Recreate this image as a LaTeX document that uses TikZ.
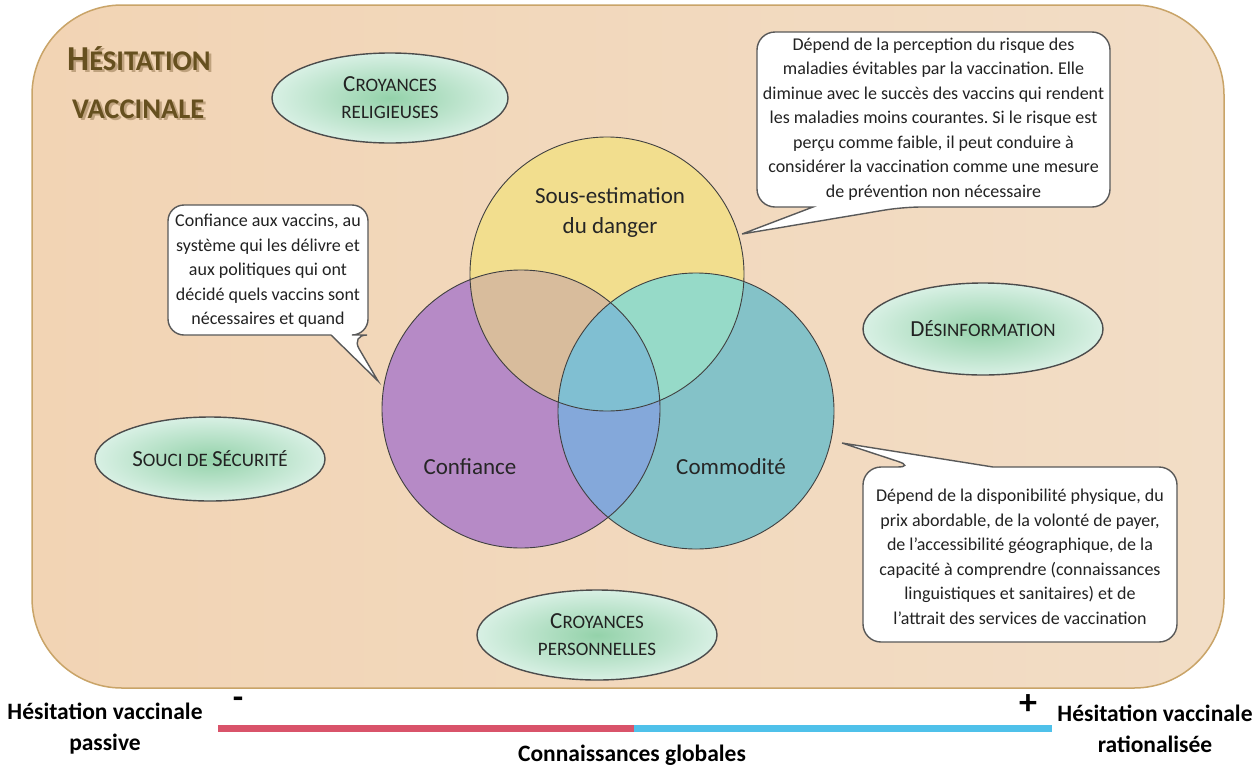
\documentclass[tikz,border=0pt]{standalone}
\usepackage{fontspec}
\setmainfont{Carlito}
\usetikzlibrary{shapes.geometric}
\definecolor{bgA}{HTML}{F2D4B4}
\definecolor{bgB}{HTML}{EBC49D}
\definecolor{bgC}{HTML}{F2DDC6}
\definecolor{frame}{HTML}{C9A468}
\definecolor{cY}{HTML}{F2DE8E}
\definecolor{cP}{HTML}{B68AC6}
\definecolor{cT}{HTML}{84C2C8}
\definecolor{cYP}{HTML}{D8BC9C}
\definecolor{cYT}{HTML}{96DAC8}
\definecolor{cPT}{HTML}{84A8DA}
\definecolor{cYPT}{HTML}{80BFD2}
\definecolor{ellIn}{HTML}{94D2AA}
\definecolor{ellOut}{HTML}{D8F0E4}
\definecolor{titlecol}{HTML}{66501F}
\definecolor{shadowcol}{HTML}{BFA27E}
\definecolor{barred}{HTML}{D9536A}
\definecolor{barblue}{HTML}{4FC1EA}
\definecolor{txt}{HTML}{222222}
\newcommand{\mysc}[2]{{\fontsize{23}{27}\selectfont #1}{\fontsize{19}{27}\selectfont #2}}
\frenchspacing
\begin{document}
\begin{tikzpicture}[x=1pt,y=-1pt,
  factor/.style={ellipse, draw=black!70, line width=1.4pt, inner color=ellIn, outer color=ellOut,
     inner sep=0pt, align=center, text=txt, font=\fontsize{19}{27}\selectfont},
  callout/.style={draw=black!65, line width=1.4pt, fill=white},
  callouttext/.style={align=center, text=txt, inner sep=0pt, font=\fontsize{18}{24.5}\selectfont},
  venn/.style={draw=black!75, line width=0.9pt},
  vennlabel/.style={align=center, text=black!85, font=\fontsize{23}{30}\selectfont},
  bottomtext/.style={align=center, text=black, font=\bfseries\fontsize{23.5}{31}\selectfont},
  titletext/.style={anchor=base west, inner sep=0pt, font=\bfseries}
]
\useasboundingbox (0,0) rectangle (1257,766);
\fill[white] (0,0) rectangle (1257,766);

% background frame
\shade[left color=bgA, middle color=bgB, right color=bgC, rounded corners=90pt]
  (32,5) rectangle (1224,688);
\draw[frame, line width=1.5pt, rounded corners=90pt] (32,5) rectangle (1224,688);

% title
\node[titletext, text=shadowcol] (t1s) at (69.5,72.5) {\fontsize{35}{40}\selectfont H\fontsize{28.5}{40}\selectfont ÉSITATION};
\node[titletext, text=shadowcol] (t2s) at (74.5,120.5) {\fontsize{28.5}{40}\selectfont VACCINALE};
\node[titletext, text=titlecol] (t1) at (67,70) {\fontsize{35}{40}\selectfont H\fontsize{28.5}{40}\selectfont ÉSITATION};
\node[titletext, text=titlecol] (t2) at (72,118) {\fontsize{28.5}{40}\selectfont VACCINALE};

% factor ellipses
\node[factor, minimum width=236pt, minimum height=90pt] (rel) at (390,98)
  {\mysc{C}{ROYANCES}\\\mysc{}{RELIGIEUSES}};
\node[factor, minimum width=240pt, minimum height=92pt] (des) at (983,329)
  {\mysc{D}{ÉSINFORMATION}};
\node[factor, minimum width=230pt, minimum height=84pt] (sec) at (210,459)
  {\mysc{S}{OUCI DE }\mysc{S}{ÉCURITÉ}};
\node[factor, minimum width=240pt, minimum height=90pt] (per) at (597,635)
  {\mysc{C}{ROYANCES}\\\mysc{}{PERSONNELLES}};

% Venn diagram
\coordinate (cy) at (607,274);
\coordinate (cp) at (521,409);
\coordinate (ct) at (696,411);
\def\rY{137pt}\def\rP{139pt}\def\rT{138pt}
\fill[cY] (cy) circle[radius=\rY];
\fill[cP] (cp) circle[radius=\rP];
\fill[cT] (ct) circle[radius=\rT];
\begin{scope}
  \clip (cp) circle[radius=\rP];
  \fill[cPT] (ct) circle[radius=\rT];
\end{scope}
\begin{scope}
  \clip (cy) circle[radius=\rY];
  \fill[cYP] (cp) circle[radius=\rP];
  \fill[cYT] (ct) circle[radius=\rT];
  \clip (cp) circle[radius=\rP];
  \fill[cYPT] (ct) circle[radius=\rT];
\end{scope}
\draw[venn] (cy) circle[radius=\rY];
\draw[venn] (cp) circle[radius=\rP];
\draw[venn] (ct) circle[radius=\rT];
\node[vennlabel] (ly) at (610,213) {Sous-estimation\\du danger};
\node[vennlabel] (lp) at (470,467) {Confiance};
\node[vennlabel] (lt) at (731,467) {Commodité};

% callouts
\draw[callout, rounded corners=18pt] (757,120) -- (757,32) -- (1110,32) -- (1110,207) -- (903,207)
  [sharp corners] -- (742,234) -- (813,207) [rounded corners=18pt] -- (757,207) -- cycle;
\node[callouttext] (c1) at (933.5,119) {Dépend de la perception du risque des\\
maladies évitables par la vaccination. Elle\\
diminue avec le succès des vaccins qui rendent\\
les maladies moins courantes. Si le risque est\\
perçu comme faible, il peut conduire à\\
considérer la vaccination comme une mesure\\
de prévention non nécessaire};

\draw[callout, rounded corners=16pt] (168,270) -- (168,205) -- (368,205) -- (368,335) -- (351,335)
  [sharp corners] -- (378,381) -- (331,335) [rounded corners=16pt] -- (168,335) -- cycle;
\node[callouttext] (c2) at (268,271) {Confiance aux vaccins, au\\
système qui les délivre et\\
aux politiques qui ont\\
décidé quels vaccins sont\\
nécessaires et quand};

\draw[callout, rounded corners=18pt] (863,555) -- (863,467) -- (915,467)
  [sharp corners] -- (842,443) -- (993,467) [rounded corners=18pt] -- (1177,467) -- (1177,642) -- (863,642) -- cycle;
\node[callouttext] (c3) at (1020,557) {Dépend de la disponibilité physique, du\\
prix abordable, de la volonté de payer,\\
de l'accessibilité géographique, de la\\
capacité à comprendre (connaissances\\
linguistiques et sanitaires) et de\\
l'attrait des services de vaccination};

% bottom scale
\coordinate (b0) at (218,728);
\coordinate (bm) at (634,728);
\coordinate (b1) at (1052,728);
\draw[barred, line width=7pt] (b0) -- (bm);
\draw[barblue, line width=7pt] (bm) -- (b1);
\node[bottomtext] (lpas) at (105,729) {Hésitation vaccinale\\passive};
\node[bottomtext] (lrat) at (1155,729) {Hésitation vaccinale\\rationalisée};
\node[bottomtext] (lcon) at (632,755) {Connaissances globales};
\node[text=black, font=\bfseries\fontsize{34}{34}\selectfont, inner sep=0pt] (minus) at (238,703) {-};
\node[text=black, font=\bfseries\fontsize{36}{36}\selectfont, inner sep=0pt] (plus) at (1028,705) {+};
\end{tikzpicture}
\end{document}
